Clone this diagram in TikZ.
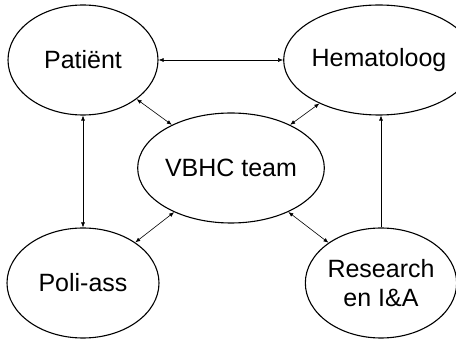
\documentclass[tikz,border=0pt]{standalone}
\usepackage{fontspec}
\setmainfont{Liberation Sans}
\usetikzlibrary{arrows.meta,shapes.geometric}
\tikzset{
  line/.style={<->, line width=0.6pt},
  oneway/.style={->, line width=0.6pt},
  party/.style={draw, ellipse, line width=1.1pt, inner sep=0pt, align=center,
    minimum width=150pt, minimum height=110pt, font=\fontsize{25}{29}\selectfont}
}
\begin{document}
\begin{tikzpicture}[x=1pt, y=-1pt, >={Latex[length=5pt,width=4pt]}]
  \useasboundingbox (0,0) rectangle (456,339);
  \node[party] (pat) at (83,60) {Patiënt};
  \node[party, minimum width=145pt] (hem) at (379,60) {Hematoloog};
  \node[party] (vbhc) at (231,168) {VBHC team};
  \node[party, minimum width=152pt] (poli) at (83,283) {Poli-ass};
  \node[party, minimum width=147pt] (res) at (381,283) {Research\\en I\&A};

  \draw[line] (pat) -- (hem);
  \draw[line] (pat) -- (poli);
  \draw[line] (vbhc) -- (pat);
  \draw[line] (vbhc) -- (hem);
  \draw[line] (vbhc) -- (poli);
  \draw[line] (vbhc) -- (res);
  \draw[oneway] (res.north) -- (res.north |- hem.south);
\end{tikzpicture}
\end{document}
